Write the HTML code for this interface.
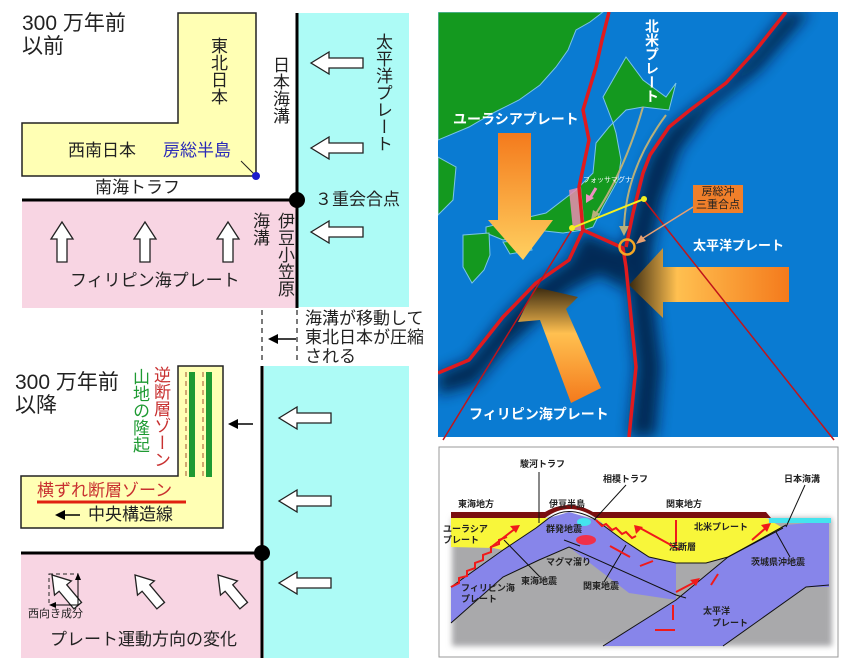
<!DOCTYPE html>
<html><head><meta charset="utf-8"><style>
html,body{margin:0;padding:0;background:#fff}
#w{position:relative;width:842px;height:664px;overflow:hidden;font-family:"Liberation Sans","Noto Sans CJK JP",sans-serif}
svg{position:absolute;left:0;top:0}
.t{position:absolute;white-space:nowrap;line-height:1;color:#222}
.v{writing-mode:vertical-rl}
</style></head><body><div id="w">
<svg width="842" height="664" viewBox="0 0 842 664">
<defs>
<g id="la"><polygon points="0,0 18,-11 18,-5 52,-5 52,5 18,5 18,11" fill="#fff" stroke="#222" stroke-width="1.3"/></g>
<g id="ua"><polygon points="0,0 11,17 5,17 5,40 -5,40 -5,17 -11,17" fill="#fff" stroke="#222" stroke-width="1.3"/></g>
<linearGradient id="gd" x1="0" y1="0" x2="0" y2="1"><stop offset="0" stop-color="#f47a1c"/><stop offset="1" stop-color="#ffd060"/></linearGradient>
<linearGradient id="gl" x1="1" y1="0" x2="0" y2="0"><stop offset="0" stop-color="#f47a1c"/><stop offset=".7" stop-color="#ffc050"/><stop offset="1" stop-color="#3a2a10"/></linearGradient>
<linearGradient id="gp" x1="0" y1="1" x2="0" y2="0"><stop offset="0" stop-color="#f47a1c"/><stop offset=".6" stop-color="#ffc050"/><stop offset="1" stop-color="#3a2a10"/></linearGradient>
<filter id="bl"><feGaussianBlur stdDeviation="7"/></filter>
<filter id="bl2"><feGaussianBlur stdDeviation="3"/></filter>
<clipPath id="mc"><rect x="438" y="12" width="400" height="425"/></clipPath>
</defs>
<!-- TOP LEFT -->
<rect x="298" y="13" width="111" height="294" fill="#adfbf6"/>
<rect x="22" y="200" width="275" height="108" fill="#f8d5e3"/>
<polygon points="178,13 256,13 256,176 22,176 22,123 178,123" fill="#ffffb4" stroke="#222" stroke-width="1.5"/>
<line x1="297" y1="13" x2="297" y2="308" stroke="#000" stroke-width="3"/>
<line x1="22" y1="200" x2="297" y2="200" stroke="#000" stroke-width="3"/>
<circle cx="297" cy="200" r="8" fill="#000"/>
<line x1="241" y1="161" x2="256" y2="176" stroke="#222" stroke-width="1"/>
<circle cx="256" cy="176" r="4" fill="#1a1acc"/>
<use href="#la" x="311" y="63"/><use href="#la" x="311" y="148"/><use href="#la" x="311" y="232"/>
<use href="#ua" x="62" y="222"/><use href="#ua" x="145" y="222"/><use href="#ua" x="228" y="222"/>
<!-- middle -->
<line x1="262" y1="310" x2="262" y2="364" stroke="#222" stroke-width="1.2" stroke-dasharray="5,4"/>
<line x1="297" y1="310" x2="297" y2="364" stroke="#222" stroke-width="1.2" stroke-dasharray="5,4"/>
<line x1="274" y1="339" x2="296" y2="339" stroke="#000" stroke-width="1.5"/><polygon points="268,339 278,334 278,344" fill="#000"/>
<!-- BOTTOM LEFT -->
<rect x="264" y="366" width="145" height="292" fill="#adfbf6"/>
<rect x="21" y="553" width="241" height="105" fill="#f8d5e3"/>
<polygon points="178,366 223,366 223,528 21,528 21,476 178,476" fill="#ffffb4" stroke="#222" stroke-width="1.5"/>
<rect x="189" y="372" width="6" height="105" fill="#1e9a32"/><rect x="206" y="372" width="6" height="105" fill="#1e9a32"/>
<line x1="186" y1="372" x2="186" y2="477" stroke="#a0522d" stroke-width="1" stroke-dasharray="5,4"/>
<line x1="203" y1="372" x2="203" y2="477" stroke="#a0522d" stroke-width="1" stroke-dasharray="5,4"/>
<line x1="37" y1="502" x2="186" y2="502" stroke="#e02010" stroke-width="3"/>
<line x1="236" y1="424" x2="253" y2="424" stroke="#000" stroke-width="1.5"/><polygon points="228,424 238,419 238,429" fill="#000"/>
<line x1="63" y1="515" x2="80" y2="515" stroke="#000" stroke-width="1.5"/><polygon points="55,515 65,510 65,520" fill="#000"/>
<line x1="262" y1="366" x2="262" y2="658" stroke="#000" stroke-width="3"/>
<line x1="21" y1="553" x2="262" y2="553" stroke="#000" stroke-width="3"/>
<circle cx="262" cy="553" r="8" fill="#000"/>
<use href="#la" x="279" y="418"/><use href="#la" x="279" y="501"/><use href="#la" x="279" y="583"/>
<g transform="translate(52,575) rotate(-40)"><use href="#ua"/></g>
<g transform="translate(135,575) rotate(-40)"><use href="#ua"/></g>
<g transform="translate(218,575) rotate(-40)"><use href="#ua"/></g>
<rect x="49" y="574" width="29" height="31" fill="none" stroke="#222" stroke-dasharray="4,3"/>
<line x1="78" y1="605" x2="78" y2="578" stroke="#000"/><polygon points="78,573 75,580 81,580" fill="#000"/>
<line x1="78" y1="605" x2="54" y2="605" stroke="#000"/><polygon points="49,605 56,602 56,608" fill="#000"/>
<!-- MAP -->
<rect x="438" y="12" width="400" height="425" fill="#0a7bd2"/>
<g clip-path="url(#mc)">
<g filter="url(#bl)" fill="#001838" opacity=".8">
<polygon points="786,12 810,12 760,70 710,110 680,150 662,200 652,250 654,300 662,367 656,437 629,437 636,367 626,267 623,248 633,213 643,173 650,155 669,127 690,110 726,83 756,50"/>
<polygon points="583,232 626,250 626,290 600,275 570,290 540,318 505,350 475,385 438,395 438,373 469,360 503,317 536,283 569,260"/>
</g>
<g fill="#14991f" stroke="#7bc4e8" stroke-width="1">
<polygon points="438,12 603,12 590,22 576,30 568,50 556,67 540,85 519,100 495,112 469,127 438,140"/>
<polygon points="438,157 456,167 453,200 438,215"/>
<polygon points="613,123 616,133 621,160 618,180 603,207 593,227 583,230 563,233 536,230 520,236 503,240 486,233 486,227 503,223 546,213 576,190 593,173 596,143 609,127"/>
<polygon points="503,242 529,240 532,250 510,254"/>
<polygon points="603,97 626,57 643,80 666,97 676,83 669,110 643,107 626,110 613,123"/>
<polygon points="463,235 489,233 490,255 484,270 472,283 463,267"/>
</g>
<polygon points="569,190 581,187 585,230 573,230" fill="#e98cb0" opacity=".85"/>
<line x1="596" y1="188" x2="590" y2="198" stroke="#f090c0" stroke-width="3"/><polygon points="586,203 586,194 594,198" fill="#f090c0"/>
<polygon points="498,133 531,133 531,220 553,220 523,260 488,220 498,220" fill="url(#gd)"/>
<polygon points="789,267 663,267 663,248 629,285 663,318 663,302 789,302" fill="url(#gl)"/>
<polygon points="601,388 571,403 540,320 518,322 535,287 578,297 566,309" fill="url(#gp)"/>
<g stroke="#b8b07a" stroke-width="2" fill="none"><path d="M643,107 Q625,170 595,215"/><path d="M666,115 Q625,170 624,230"/></g>
<polygon points="591,220 593,210 600,214" fill="#b8b07a"/><polygon points="624,236 619,226 629,226" fill="#b8b07a"/>
<g stroke="#e01a1e" stroke-width="3.5" fill="none" stroke-linejoin="round">
<path d="M609,12 L602,40 L596,67 L583,110 L589,140 L579,187 L583,230 L623,248 L626,267 L636,367 L629,437"/>
<path d="M786,12 L756,50 L726,83 L690,110 L669,127 L650,155 L643,173 L633,213 L626,247"/>
<path d="M583,230 L569,260 L536,283 L503,317 L469,360 L438,373"/>
</g>
</g>
<g stroke="#c0141a" stroke-width="1.5"><line x1="573" y1="228" x2="443" y2="440"/><line x1="644" y1="200" x2="834" y2="440"/></g>
<line x1="572" y1="228" x2="644" y2="199" stroke="#f4f020" stroke-width="2"/>
<circle cx="572" cy="228" r="3" fill="#f4f020"/><circle cx="644" cy="199" r="3" fill="#f4f020"/>
<circle cx="627" cy="247" r="7.5" fill="none" stroke="#f5a623" stroke-width="2.5"/>
<line x1="693" y1="207" x2="640" y2="240" stroke="#e8a070" stroke-width="1.5"/><polygon points="636,244 641,235 646,241" fill="#e8a070"/>
<rect x="693" y="185" width="50" height="28" fill="#f07f2a"/>
<!-- CROSS SECTION -->
<rect x="439" y="447" width="399" height="210" fill="#fff" stroke="#999"/>
<g filter="url(#bl2)">
<rect x="452" y="518" width="380" height="128" fill="#a9a9ab"/>
</g>
<polygon points="786,525 829,521 829,587 806,587 723,646 603,646 676,600 728,557" fill="#8785ea"/>
<polygon points="451,587 503,550 536,528 549,518 569,512 596,520 623,540 649,557 676,563 676,600 629,593 569,547 539,560 503,577 451,623" fill="#8785ea"/>
<polygon points="451,518 549,518 536,528 503,550 493,548 451,547" fill="#f8f63a"/>
<polygon points="596,518 766,518 783,528 728,557 706,563 676,563 649,557 623,540" fill="#f8f63a"/>
<rect x="769" y="518" width="62" height="5" fill="#44e4ee"/>
<path d="M451,512 L545,512 Q569,498 593,512 L766,512 L771,518 L596,518 Q569,500 545,518 L451,518Z" fill="#7a0f0f"/>
<g stroke="#111" stroke-width="1" fill="none">
<path d="M451,587 L503,550 L536,528 L549,518 Q569,504 596,520 L623,540 L649,557 L676,563 L706,563 L728,557 L783,528"/>
<path d="M451,623 L503,577 L539,560 L569,547 L676,595 L686,598"/>
<path d="M603,646 L676,600 L728,557 L786,525"/>
<path d="M723,646 L806,587 L829,585"/>
<line x1="539" y1="472" x2="539" y2="523"/><line x1="626" y1="485" x2="594" y2="520"/><line x1="805" y1="485" x2="786" y2="527"/>
<line x1="564" y1="540" x2="580" y2="546"/><line x1="504" y1="540" x2="540" y2="577"/><line x1="626" y1="545" x2="604" y2="582"/>
<line x1="776" y1="532" x2="790" y2="557"/>
</g>
<g stroke="#f01a1a" stroke-width="2" fill="none">
<path d="M451,587 l8,-4 l0,-5 l8,-2 l0,-5 l8,-3 l0,-5 l8,-3 l0,-5 l8,-3 l0,-5 l8,-3 l0,-4 l8,-3"/>
<path d="M596,520 l6,6 l4,-2 l6,6 l4,-2 l6,6 l4,-2 l6,6 l4,-2"/>
<path d="M490,548 L516,528"/><path d="M752,540 L768,526"/><path d="M680,550 L640,528"/>
<path d="M676,592 L695,582"/><path d="M676,520 L676,545"/><path d="M640,566 L653,561"/><path d="M610,546 L630,557"/>
<path d="M711,585 L718,574"/><path d="M673,605 L673,620"/><path d="M655,630 L675,630"/>
</g>
<polygon points="520,525 510,526 516,533" fill="#f01a1a"/><polygon points="771,523 761,525 767,532" fill="#f01a1a"/><polygon points="700,578 690,580 696,586" fill="#f01a1a"/><polygon points="634,525 636,534 643,527" fill="#f01a1a"/>
<ellipse cx="586" cy="540" rx="10" ry="5" fill="#f0304a"/>
<ellipse cx="584" cy="522" rx="7" ry="4" fill="#44e4ee"/>
</svg>
<!-- TEXT -->
<div class="t" style="left:22px;top:12px;font-size:21px;line-height:23px">300 万年前<br>以前</div>
<div class="t v" style="left:209px;top:37px;font-size:17px">東北日本</div>
<div class="t v" style="left:271px;top:56px;font-size:17px">日本海溝</div>
<div class="t v" style="left:374px;top:33px;font-size:17px">太平洋プレート</div>
<div class="t" style="left:68px;top:142px;font-size:17px">西南日本</div>
<div class="t" style="left:163px;top:142px;font-size:17px;color:#2a2ab8">房総半島</div>
<div class="t" style="left:95px;top:179px;font-size:17px">南海トラフ</div>
<div class="t" style="left:315px;top:191px;font-size:17px">３重会合点</div>
<div class="t v" style="left:251px;top:212px;font-size:17px">海溝</div>
<div class="t v" style="left:276px;top:212px;font-size:17px">伊豆小笠原</div>
<div class="t" style="left:70px;top:272px;font-size:17px">フィリピン海プレート</div>
<div class="t" style="left:305px;top:309px;font-size:17px;line-height:19px">海溝が移動して<br>東北日本が圧縮<br>される</div>
<div class="t" style="left:15px;top:371px;font-size:21px;line-height:23px">300 万年前<br>以降</div>
<div class="t v" style="left:131px;top:368px;font-size:17px;color:#1e9a32">山地の隆起</div>
<div class="t v" style="left:152px;top:366px;font-size:17px;color:#c83030">逆断層ゾーン</div>
<div class="t" style="left:37px;top:482px;font-size:17px;color:#c83030">横ずれ断層ゾーン</div>
<div class="t" style="left:88px;top:506px;font-size:17px">中央構造線</div>
<div class="t" style="left:28px;top:609px;font-size:11px">西向き成分</div>
<div class="t" style="left:50px;top:631px;font-size:17px">プレート運動方向の変化</div>
<div class="t" style="left:453px;top:112px;font-size:14px;font-weight:bold;color:#fff">ユーラシアプレート</div>
<div class="t v" style="left:645px;top:19px;font-size:14px;font-weight:bold;color:#fff">北米プレート</div>
<div class="t" style="left:693px;top:239px;font-size:13px;font-weight:bold;color:#fff">太平洋プレート</div>
<div class="t" style="left:469px;top:407px;font-size:14px;font-weight:bold;color:#fff">フィリピン海プレート</div>
<div class="t" style="left:583px;top:177px;font-size:7px;color:#fff">フォッサマグナ</div>
<div class="t" style="left:693px;top:186px;width:50px;text-align:center;font-size:11px;line-height:13px;color:#222">房総沖<br>三重合点</div>
<div class="t" style="left:520px;top:460px;font-size:9px;font-weight:bold">駿河トラフ</div>
<div class="t" style="left:603px;top:475px;font-size:9px;font-weight:bold">相模トラフ</div>
<div class="t" style="left:784px;top:475px;font-size:9px;font-weight:bold">日本海溝</div>
<div class="t" style="left:458px;top:500px;font-size:9px;font-weight:bold">東海地方</div>
<div class="t" style="left:549px;top:500px;font-size:9px;font-weight:bold">伊豆半島</div>
<div class="t" style="left:666px;top:500px;font-size:9px;font-weight:bold">関東地方</div>
<div class="t" style="left:443px;top:524px;font-size:9px;font-weight:bold;line-height:11px">ユーラシア<br>プレート</div>
<div class="t" style="left:546px;top:525px;font-size:9px;font-weight:bold">群発地震</div>
<div class="t" style="left:694px;top:523px;font-size:9px;font-weight:bold">北米プレート</div>
<div class="t" style="left:669px;top:543px;font-size:9px;font-weight:bold">活断層</div>
<div class="t" style="left:546px;top:558px;font-size:9px;font-weight:bold">マグマ溜り</div>
<div class="t" style="left:751px;top:558px;font-size:9px;font-weight:bold">茨城県沖地震</div>
<div class="t" style="left:521px;top:577px;font-size:9px;font-weight:bold">東海地震</div>
<div class="t" style="left:583px;top:582px;font-size:9px;font-weight:bold">関東地震</div>
<div class="t" style="left:461px;top:583px;font-size:9px;font-weight:bold;line-height:11px">フィリピン海<br>プレート</div>
<div class="t" style="left:703px;top:605px;font-size:9px;font-weight:bold;line-height:12px">太平洋<br>　プレート</div>
</div></body></html>
